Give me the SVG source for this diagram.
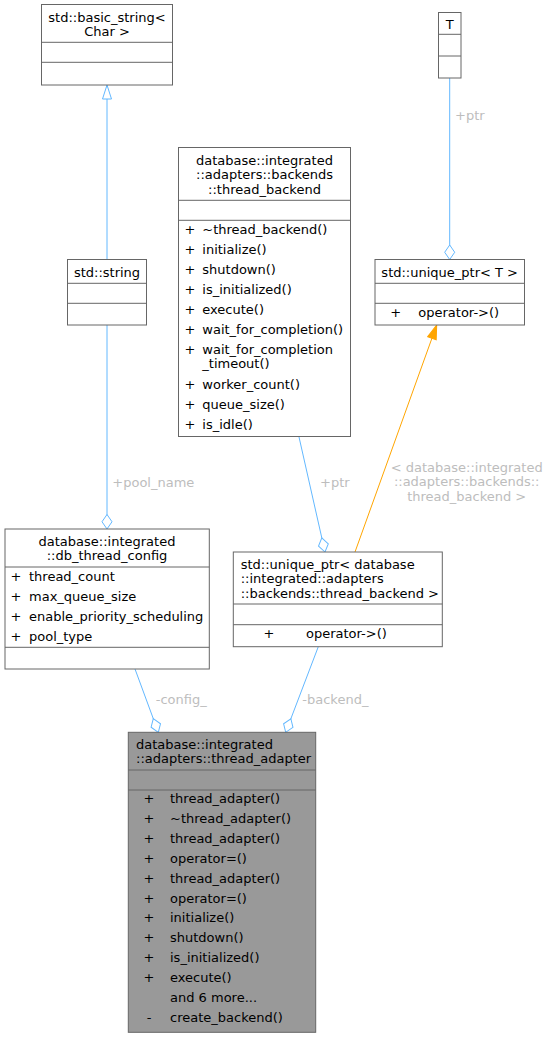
<svg xmlns="http://www.w3.org/2000/svg" width="547" height="1037" viewBox="0 0 547 1037">
<style>
.box{fill:#ffffff;stroke:#666666;stroke-width:1}
.boxg{fill:#999999;stroke:#666666;stroke-width:1}
.div{stroke:#666666;stroke-width:1}
text{font-family:"DejaVu Sans","Liberation Sans",sans-serif;font-size:13px;fill:#000000}
.c{text-anchor:middle}
.lbl{fill:#bdbdbd}
.e{fill:none;stroke:#63b8ff;stroke-width:1}
.eo{fill:none;stroke:#ffa500;stroke-width:1}
</style>
<defs>
<marker id="dia" markerUnits="userSpaceOnUse" markerWidth="16" markerHeight="12" refX="14.5" refY="5.5" orient="auto" overflow="visible">
<path d="M0,5.5 L7.25,0.5 L14.5,5.5 L7.25,10.5 Z" fill="#ffffff" stroke="#63b8ff" stroke-width="1"/>
</marker>
<marker id="tri" markerUnits="userSpaceOnUse" markerWidth="16" markerHeight="12" refX="14" refY="5" orient="auto" overflow="visible">
<path d="M0,0.5 L14,5 L0,9.5 Z" fill="#ffffff" stroke="#63b8ff" stroke-width="1"/>
</marker>
<marker id="tro" markerUnits="userSpaceOnUse" markerWidth="16" markerHeight="12" refX="14" refY="5" orient="auto" overflow="visible">
<path d="M0,0.5 L14,5 L0,9.5 Z" fill="#ffa500" stroke="#ffa500" stroke-width="1"/>
</marker>
</defs>
<rect width="547" height="1037" fill="#ffffff"/>

<g id="edges">
<line class="e" x1="107" y1="259.5" x2="107" y2="85" marker-end="url(#tri)"/>
<line class="e" x1="107" y1="325" x2="107" y2="529" marker-end="url(#dia)"/>
<line class="e" x1="449.7" y1="78" x2="449.7" y2="259.5" marker-end="url(#dia)"/>
<line class="e" x1="299" y1="437" x2="325" y2="552" marker-end="url(#dia)"/>
<line class="eo" x1="355" y1="552" x2="436.7" y2="325" marker-end="url(#tro)"/>
<line class="e" x1="135" y1="669" x2="158.3" y2="732.3" marker-end="url(#dia)"/>
<line class="e" x1="318.3" y1="646.7" x2="285.7" y2="732.3" marker-end="url(#dia)"/>
<text class="lbl" x="112.3" y="486.5">+pool_name</text>
<text class="lbl" x="455" y="119.5">+ptr</text>
<text class="lbl" x="320" y="486.5">+ptr</text>
<text class="lbl c" x="466.7" y="471.5">&lt; database::integrated</text>
<text class="lbl c" x="466.7" y="486">::adapters::backends::</text>
<text class="lbl c" x="466.7" y="500.5">thread_backend &gt;</text>
<text class="lbl" x="155.7" y="703.5">-config_</text>
<text class="lbl" x="302.3" y="703.5">-backend_</text>
</g>

<g id="node-basic-string">
<rect class="box" x="41.5" y="4.5" width="131" height="80.5"/>
<line class="div" x1="41.5" y1="42.3" x2="172.5" y2="42.3"/>
<line class="div" x1="41.5" y1="62.3" x2="172.5" y2="62.3"/>
<text class="c" x="107" y="21.5">std::basic_string&lt;</text>
<text class="c" x="107" y="36">Char &gt;</text>
</g>

<g id="node-std-string">
<rect class="box" x="67.5" y="259.5" width="79" height="65.5"/>
<line class="div" x1="67.5" y1="283.3" x2="146.5" y2="283.3"/>
<line class="div" x1="67.5" y1="303.3" x2="146.5" y2="303.3"/>
<text class="c" x="107" y="276.5">std::string</text>
</g>

<g id="node-T">
<rect class="box" x="438.5" y="12.5" width="22.5" height="65.5"/>
<line class="div" x1="438.5" y1="34.3" x2="461" y2="34.3"/>
<line class="div" x1="438.5" y1="56" x2="461" y2="56"/>
<text class="c" x="449.7" y="29">T</text>
</g>

<g id="node-unique-ptr-T">
<rect class="box" x="375" y="259.5" width="149.5" height="65.5"/>
<line class="div" x1="375" y1="283.3" x2="524.5" y2="283.3"/>
<line class="div" x1="375" y1="303.3" x2="524.5" y2="303.3"/>
<text class="c" x="449.7" y="276.5">std::unique_ptr&lt; T &gt;</text>
<text class="c" x="395.7" y="316.7">+</text>
<text x="418.3" y="316.7">operator-&gt;()</text>
</g>

<g id="node-thread-backend">
<rect class="box" x="178.5" y="147.5" width="172" height="289"/>
<line class="div" x1="178.5" y1="200.3" x2="350.5" y2="200.3"/>
<line class="div" x1="178.5" y1="220.3" x2="350.5" y2="220.3"/>
<text class="c" x="264.5" y="164.5">database::integrated</text>
<text class="c" x="264.5" y="179">::adapters::backends</text>
<text class="c" x="264.5" y="193.5">::thread_backend</text>
<text class="c" x="190" y="233.5">+</text>
<text class="c" x="190" y="253.5">+</text>
<text class="c" x="190" y="273.5">+</text>
<text class="c" x="190" y="293.5">+</text>
<text class="c" x="190" y="313.5">+</text>
<text class="c" x="190" y="333.5">+</text>
<text class="c" x="190" y="353.5">+</text>
<text class="c" x="190" y="388.5">+</text>
<text class="c" x="190" y="408.5">+</text>
<text class="c" x="190" y="428.5">+</text>
<text x="202.3" y="233.5">~thread_backend()</text>
<text x="202.3" y="253.5">initialize()</text>
<text x="202.3" y="273.5">shutdown()</text>
<text x="202.3" y="293.5">is_initialized()</text>
<text x="202.3" y="313.5">execute()</text>
<text x="202.3" y="333.5">wait_for_completion()</text>
<text x="202.3" y="353.5">wait_for_completion</text>
<text x="202.3" y="367.5">_timeout()</text>
<text x="202.3" y="388.5">worker_count()</text>
<text x="202.3" y="408.5">queue_size()</text>
<text x="202.3" y="428.5">is_idle()</text>
</g>

<g id="node-db-thread-config">
<rect class="box" x="5" y="529" width="204.3" height="140"/>
<line class="div" x1="5" y1="567" x2="209.3" y2="567"/>
<line class="div" x1="5" y1="647.3" x2="209.3" y2="647.3"/>
<text class="c" x="107" y="545.5">database::integrated</text>
<text class="c" x="107" y="560">::db_thread_config</text>
<text class="c" x="16" y="580.5">+</text>
<text class="c" x="16" y="600.5">+</text>
<text class="c" x="16" y="620.5">+</text>
<text class="c" x="16" y="640.5">+</text>
<text x="29" y="580.5">thread_count</text>
<text x="29" y="600.5">max_queue_size</text>
<text x="29" y="620.5">enable_priority_scheduling</text>
<text x="29" y="640.5">pool_type</text>
</g>

<g id="node-unique-ptr-backend">
<rect class="box" x="233.3" y="552" width="209" height="94.7"/>
<line class="div" x1="233.3" y1="604" x2="442.3" y2="604"/>
<line class="div" x1="233.3" y1="624.7" x2="442.3" y2="624.7"/>
<text x="240.7" y="568.5">std::unique_ptr&lt; database</text>
<text x="240.7" y="583">::integrated::adapters</text>
<text x="240.7" y="597.5">::backends::thread_backend &gt;</text>
<text class="c" x="269" y="637.5">+</text>
<text x="306" y="637.5">operator-&gt;()</text>
</g>

<g id="node-thread-adapter">
<rect class="boxg" x="128.3" y="732.3" width="187.4" height="300"/>
<line class="div" x1="128.3" y1="770" x2="315.7" y2="770"/>
<line class="div" x1="128.3" y1="790" x2="315.7" y2="790"/>
<text x="136" y="748.5">database::integrated</text>
<text x="136" y="762.8">::adapters::thread_adapter</text>
<text class="c" x="149" y="803">+</text>
<text class="c" x="149" y="822.9">+</text>
<text class="c" x="149" y="842.8">+</text>
<text class="c" x="149" y="862.7">+</text>
<text class="c" x="149" y="882.6">+</text>
<text class="c" x="149" y="902.5">+</text>
<text class="c" x="149" y="922.4">+</text>
<text class="c" x="149" y="942.3">+</text>
<text class="c" x="149" y="962.2">+</text>
<text class="c" x="149" y="982.1">+</text>
<text class="c" x="149" y="1021.9">-</text>
<text x="170" y="803">thread_adapter()</text>
<text x="170" y="822.9">~thread_adapter()</text>
<text x="170" y="842.8">thread_adapter()</text>
<text x="170" y="862.7">operator=()</text>
<text x="170" y="882.6">thread_adapter()</text>
<text x="170" y="902.5">operator=()</text>
<text x="170" y="922.4">initialize()</text>
<text x="170" y="942.3">shutdown()</text>
<text x="170" y="962.2">is_initialized()</text>
<text x="170" y="982.1">execute()</text>
<text x="170" y="1002">and 6 more...</text>
<text x="170" y="1021.9">create_backend()</text>
</g>
</svg>
